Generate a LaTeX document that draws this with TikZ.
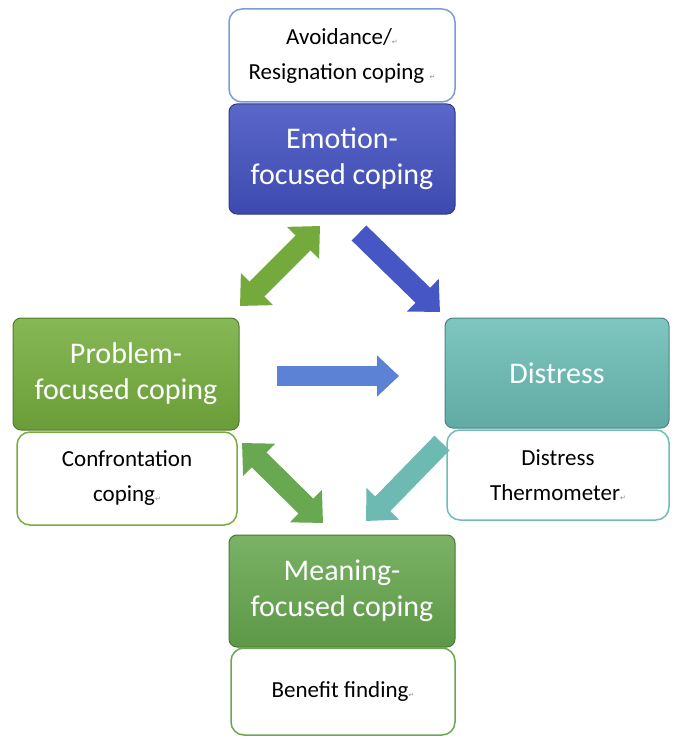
\documentclass[tikz,border=0pt]{standalone}
\usepackage{fontspec}
\setmainfont{Carlito}
\newfontfamily\markfont{DejaVu Sans}
\usepackage{xcolor}
\usetikzlibrary{arrows.meta}

\definecolor{emoblue}{RGB}{68,82,194}
\definecolor{probgreen}{RGB}{118,174,62}
\definecolor{distteal}{RGB}{108,190,182}
\definecolor{meangreen}{RGB}{104,168,80}
\definecolor{midblue}{RGB}{92,130,214}
\definecolor{paleblue}{RGB}{125,155,220}
\definecolor{leafgreen}{RGB}{116,170,60}
\definecolor{deepblue}{RGB}{70,86,196}
\definecolor{seateal}{RGB}{108,186,178}

\newcommand{\retmark}{{\markfont\fontsize{7}{7}\selectfont\color{black!45}↵}}

\tikzset{
  corebox/.style={rounded corners=8pt, draw=#1!70!black, line width=1pt,
    top color=#1!88!white, bottom color=#1!90!black, text=white,
    minimum width=226pt, minimum height=110pt, inner sep=0pt, align=center,
    font=\fontsize{30}{36}\selectfont},
  notebox/.style={rounded corners=13pt, draw=#1, line width=1.5pt, fill=white,
    minimum width=224pt, minimum height=90pt, inner sep=0pt, align=center,
    font=\fontsize{23}{35}\selectfont},
  oneway/.style={line width=21pt, draw=#1, -{Triangle[width=44pt,length=24pt]}},
  twoway/.style={line width=21pt, draw=#1,
    {Triangle[width=44pt,length=24pt]}-{Triangle[width=44pt,length=24pt]}},
}

\begin{document}
\begin{tikzpicture}[x=1pt,y=-1pt]
    \useasboundingbox (0,0) rectangle (678,738);

    \node[notebox=paleblue, minimum width=226pt, minimum height=93pt] (avoid) at (342,55.5)
        {Avoidance/\retmark\\Resignation coping \retmark};
    \node[corebox=emoblue] (emotion) at (342,159) {Emotion-\\focused coping};

    \node[corebox=probgreen, minimum height=112pt] (problem) at (126,374) {Problem-\\focused coping};
    \node[notebox=probgreen, minimum width=220pt, minimum height=93pt] (confront) at (127,478.5)
        {Confrontation\\coping\retmark};

    \node[corebox=distteal, minimum width=224pt] (distress) at (557,373) {Distress};
    \node[notebox=distteal, minimum width=222pt] (thermo) at (558,475)
        {Distress\\Thermometer\retmark};

    \node[corebox=meangreen, minimum height=112pt] (meaning) at (342,591) {Meaning-\\focused coping};
    \node[notebox=meangreen, minimum height=87pt] (benefit) at (343,691.5) {Benefit finding\retmark};

    \coordinate (ep-a) at (240,306);
    \coordinate (ep-b) at (320,226);
    \coordinate (ed-a) at (359,233);
    \coordinate (ed-b) at (440,312);
    \coordinate (pd-a) at (277,376);
    \coordinate (pd-b) at (399,376);
    \coordinate (pm-a) at (242,443);
    \coordinate (pm-b) at (323,523);
    \coordinate (dm-a) at (442,443);
    \coordinate (dm-b) at (366,521);

    \draw[twoway=leafgreen] (ep-a) -- (ep-b);
    \draw[oneway=deepblue] (ed-a) -- (ed-b);
    \draw[oneway=midblue, line width=20pt, -{Triangle[width=40pt,length=22pt]}] (pd-a) -- (pd-b);
    \draw[twoway=meangreen] (pm-a) -- (pm-b);
    \draw[oneway=seateal] (dm-a) -- (dm-b);
\end{tikzpicture}
\end{document}
